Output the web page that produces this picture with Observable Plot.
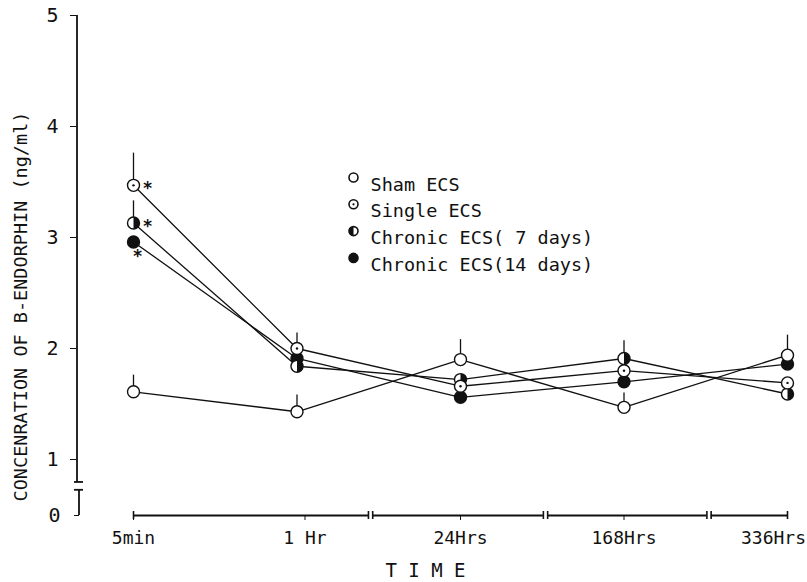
<!DOCTYPE html>
<html><head><meta charset="utf-8">
<script src="https://cdn.jsdelivr.net/npm/d3@7"></script>
<script src="https://cdn.jsdelivr.net/npm/@observablehq/plot@0.6"></script>
<style>
body{margin:0;background:#fff;}
#chart{width:807px;height:582px;}
</style></head><body><div id="chart"></div>
<script>
// ---- data ----
const times = ["5min", "1 Hr", "24Hrs", "168Hrs", "336Hrs"];
const series = ["Sham ECS", "Single ECS", "Chronic ECS( 7 days)", "Chronic ECS(14 days)"];
const sham      = [1.61, 1.43, 1.90, 1.47, 1.94];
const single    = [3.47, 2.00, 1.66, 1.80, 1.69];
const chronic7  = [3.13, 1.84, 1.72, 1.91, 1.59];
const chronic14 = [2.96, 1.91, 1.56, 1.70, 1.86];
// upper error (SEM) where drawn in the figure
const shamErr      = [0.15, 0.15, 0.18, 0.13, 0.18];
const singleErr    = [0.29, 0.14, null, null, null];
const chronic7Err  = [0.20, null, null, 0.16, null];
const chronic14Err = [null, null, null, null, null];
const significant = ["Single ECS", "Chronic ECS( 7 days)", "Chronic ECS(14 days)"]; // * at 5min
const yTicks = [0, 1, 2, 3, 4, 5];
const yTitle = "CONCENRATION OF B-ENDORPHIN (ng/ml)";
const xTitle = "T I M E";
const axisBreaks = [1.45, 2.52, 3.52]; // x-axis breaks between time groups

// ---- build table ----
const values = [sham, single, chronic7, chronic14];
const errs = [shamErr, singleErr, chronic7Err, chronic14Err];
const rows = [];
series.forEach((s, si) => values[si].forEach((v, i) => rows.push({series: s, t: i, v, err: errs[si][i]})));
const bySeries = s => rows.filter(d => d.series === s);

const gap = 0.013;
const edges = [0, ...axisBreaks, 4];
const segments = [];
for (let i = 0; i < edges.length - 1; i++) {
  segments.push({a: edges[i] + (i > 0 ? gap : 0), b: edges[i + 1] - (i < edges.length - 2 ? gap : 0)});
}
const segEnds = segments.flatMap(d => [d.a, d.b]);

const halfRight = {draw(ctx, size) { const r = Math.sqrt(size / Math.PI); ctx.moveTo(0, -r); ctx.arc(0, 0, r, -Math.PI / 2, Math.PI / 2); ctx.closePath(); }};
const halfLeft = {draw(ctx, size) { const r = Math.sqrt(size / Math.PI); ctx.moveTo(0, r); ctx.arc(0, 0, r, Math.PI / 2, 3 * Math.PI / 2); ctx.closePath(); }};

const ink = "#111";
const mono = "DejaVu Sans Mono";
const R = 6;

function legendMarks() {
  const m = [];
  const styles = [
    [{fill: "white", stroke: ink}],
    [{fill: "white", stroke: ink}, {fill: ink, r: 1.1}],
    [{fill: ink, symbol: halfLeft, stroke: "none"}, {fill: "none", stroke: ink}],
    [{fill: ink, stroke: ink}]
  ];
  series.forEach((s, i) => {
    const dy = 162 + i * 26.8;
    styles[i].forEach(st => m.push(Plot.dot([s], {frameAnchor: "top-left", dx: 276, dy, r: 4.5, strokeWidth: 1.6, ...st})));
    m.push(Plot.text([s], {frameAnchor: "top-left", dx: 293, dy, text: d => d, textAnchor: "start", fontSize: 18.5, fontFamily: mono, fill: ink}));
  });
  return m;
}

const plot = Plot.plot({
  width: 807, height: 582,
  marginLeft: 77, marginTop: 15, marginRight: 20, marginBottom: 67,
  style: {fontFamily: mono, background: "#fff", color: ink},
  x: {type: "linear", domain: [0, 4], range: [133, 787]},
  y: {type: "linear", domain: [0, 1, 5], range: [515, 459, 15]},
  marks: [
    // x axis (broken)
    Plot.ruleY(segments, {y: () => 0, x1: "a", x2: "b", stroke: ink, strokeWidth: 1.8}),
    Plot.ruleX(segEnds, {x: d => d, y1: () => 0, y2: () => 0, insetTop: -4, insetBottom: -4, stroke: ink, strokeWidth: 1.6}),
    Plot.axisX({ticks: [0, 2, 3], tickSize: 5, tickPadding: 11, tickFormat: i => times[i], fontSize: 18, fontFamily: mono, label: null, stroke: ink}),
    Plot.axisX({ticks: [1], tickSize: 5, tickPadding: 11, tickFormat: i => times[i], fontSize: 18, fontFamily: mono, label: null, dx: 8}),
    Plot.axisX({ticks: [4], tickSize: 0, tickPadding: 16, tickFormat: i => times[i], fontSize: 18, fontFamily: mono, label: null, dx: -14}),
    // y axis
    Plot.axisY({ticks: yTicks.filter(d => d > 0), tickSize: 7, tickPadding: 12, tickFormat: d => String(d), fontSize: 20, fontFamily: mono, label: null}),
    Plot.axisY({ticks: [0], tickSize: 5, tickPadding: 14, tickFormat: d => String(d), fontSize: 20, fontFamily: mono, label: null, dx: 2}),
    Plot.text([yTitle], {frameAnchor: "left", textAnchor: "middle", rotate: -90, dx: -56, dy: 41, fontSize: 18.5, fontFamily: mono, fill: ink}),
    Plot.text([xTitle], {frameAnchor: "bottom", textAnchor: "middle", dx: -7, dy: 61, fontSize: 19, fontFamily: mono, fill: ink}),
    // series
    Plot.line(rows, {x: "t", y: "v", z: "series", stroke: ink, strokeWidth: 1.3}),
    Plot.ruleX(rows.filter(d => d.err != null), {x: "t", y1: "v", y2: d => d.v + d.err, stroke: ink, strokeWidth: 1.3}),
    Plot.dot(bySeries(series[3]), {x: "t", y: "v", r: R, fill: ink, stroke: ink, strokeWidth: 1.4}),
    Plot.dot(bySeries(series[2]), {x: "t", y: "v", r: R, fill: "white"}),
    Plot.dot(bySeries(series[2]), {x: "t", y: "v", r: R, fill: ink, symbol: halfRight}),
    Plot.dot(bySeries(series[2]), {x: "t", y: "v", r: R, fill: "none", stroke: ink, strokeWidth: 1.4}),
    Plot.dot(bySeries(series[1]), {x: "t", y: "v", r: R, fill: "white", stroke: ink, strokeWidth: 1.4}),
    Plot.dot(bySeries(series[1]), {x: "t", y: "v", r: 1.2, fill: ink}),
    Plot.dot(bySeries(series[0]), {x: "t", y: "v", r: R, fill: "white", stroke: ink, strokeWidth: 1.4}),
    // significance stars
    Plot.text(rows.filter(d => d.t === 0 && significant.slice(0, 2).includes(d.series)), {x: "t", y: "v", text: () => "*", dx: 14, dy: 3, fontSize: 17, fontWeight: "bold", fill: ink}),
    Plot.text(rows.filter(d => d.t === 0 && d.series === significant[2]), {x: "t", y: "v", text: () => "*", dx: 4, dy: 15, fontSize: 17, fontWeight: "bold", fill: ink}),
    ...legendMarks()
  ]
});

// broken y-axis line drawn with the plot's own y scale
const sy = plot.scale("y");
const ax = 77;
const upperEnd = 0.59, lowerStart = 0.45;
const g = d3.select(plot).append("g").attr("stroke", ink).attr("stroke-width", 1.8).attr("fill", "none");
g.append("line").attr("x1", ax).attr("x2", ax).attr("y1", sy.apply(5)).attr("y2", sy.apply(upperEnd));
g.append("line").attr("x1", ax - 3).attr("x2", ax + 6).attr("y1", sy.apply(upperEnd)).attr("y2", sy.apply(upperEnd));
g.append("line").attr("x1", ax + 2).attr("x2", ax + 2).attr("y1", sy.apply(lowerStart)).attr("y2", sy.apply(0));
g.append("line").attr("x1", ax - 3).attr("x2", ax + 6).attr("y1", sy.apply(lowerStart)).attr("y2", sy.apply(lowerStart));

document.getElementById("chart").appendChild(plot);
</script>
</body></html>
